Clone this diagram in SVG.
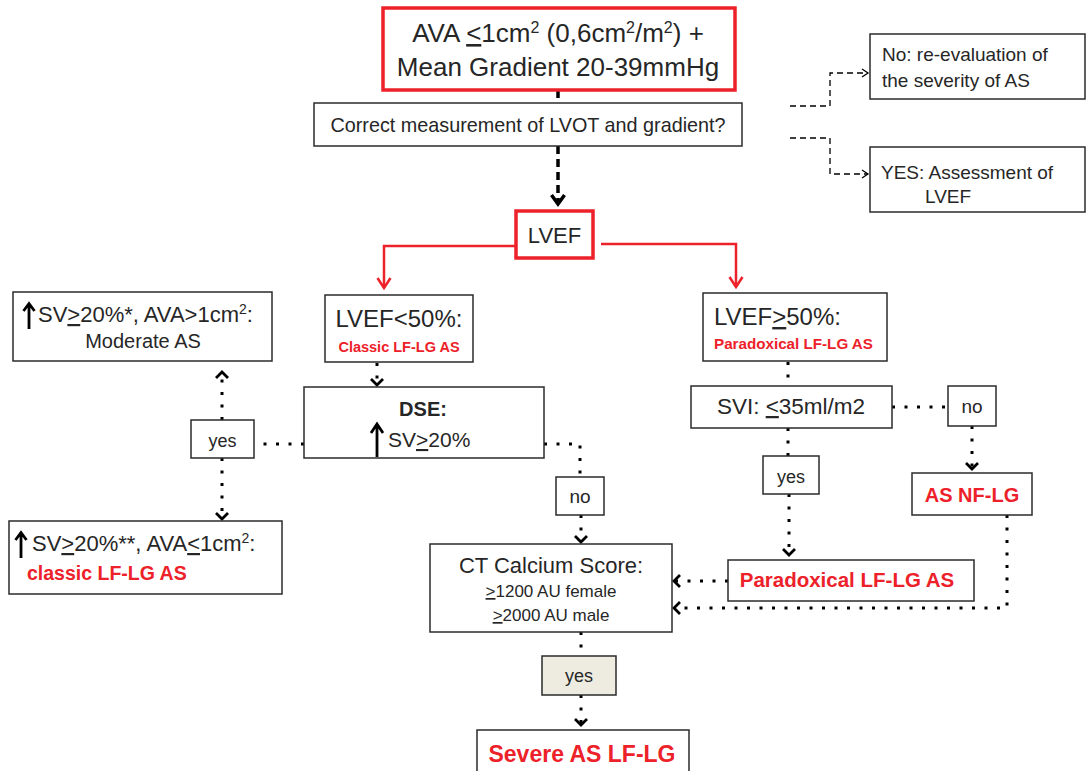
<svg xmlns="http://www.w3.org/2000/svg" width="1087" height="771" viewBox="0 0 1087 771">
<style>
.box{fill:#fff;stroke:#2b2b2b;stroke-width:1.5}
.rbox{fill:#fff;stroke:#ED2129;stroke-width:3.5}
.gbox{fill:#EEECE1;stroke:#2b2b2b;stroke-width:1.5}
text{font-family:"Liberation Sans",Arial,sans-serif;fill:#262626}
.rb{fill:#ED2129;font-weight:bold}
.b{font-weight:bold}
.dot{fill:none;stroke:#000;stroke-width:3;stroke-dasharray:3 9.5}
.dash{fill:none;stroke:#000;stroke-width:1.3;stroke-dasharray:6 4}
.thick{fill:none;stroke:#000;stroke-width:3.5;stroke-dasharray:8 5}
.red{fill:none;stroke:#ED2129;stroke-width:2.5}
.up{fill:none;stroke:#000;stroke-width:2.8}
</style>
<defs>
<marker id="mDot" markerUnits="userSpaceOnUse" orient="auto" refX="0" refY="0" markerWidth="20" markerHeight="20" style="overflow:visible"><path d="M-6,-6 L0,0 L-6,6" fill="none" stroke="#000" stroke-width="2.8"/></marker>
<marker id="mRed" markerUnits="userSpaceOnUse" orient="auto" refX="0" refY="0" markerWidth="20" markerHeight="20" style="overflow:visible"><path d="M-10,-6.5 L0,0 L-10,6.5" fill="none" stroke="#ED2129" stroke-width="2.5"/></marker>
<marker id="mThick" markerUnits="userSpaceOnUse" orient="auto" refX="0" refY="0" markerWidth="20" markerHeight="20" style="overflow:visible"><path d="M-9,-6.5 L0,0 L-9,6.5" fill="none" stroke="#000" stroke-width="3.5"/></marker>
<marker id="mDash" markerUnits="userSpaceOnUse" orient="auto" refX="0" refY="0" markerWidth="20" markerHeight="20" style="overflow:visible"><path d="M-6,-4 L0,0 L-6,4" fill="none" stroke="#000" stroke-width="1.3"/></marker>
</defs>

<g id="connectors">
<path class="thick" d="M558,90 V103"/>
<path class="thick" d="M558,146 V204" marker-end="url(#mThick)"/>
<path class="dash" d="M790,106 H830 V73 H868" marker-end="url(#mDash)"/>
<path class="dash" d="M790,138 H830 V174 H868" marker-end="url(#mDash)"/>
<path class="red" d="M516,246 H384 V288" marker-end="url(#mRed)"/>
<path class="red" d="M601,244 H736 V287" marker-end="url(#mRed)"/>
<path class="dot" d="M377,363 V385" marker-end="url(#mDot)"/>
<path class="dot" d="M304,444 H254"/>
<path class="dot" d="M222,420 V372" marker-end="url(#mDot)"/>
<path class="dot" d="M222,458 V519" marker-end="url(#mDot)"/>
<path class="dot" d="M544,444 H580 V477"/>
<path class="dot" d="M581,515 V542" marker-end="url(#mDot)"/>
<path class="dot" d="M788,362 V386"/>
<path class="dot" d="M788,428 V456"/>
<path class="dot" d="M789,494 V555" marker-end="url(#mDot)"/>
<path class="dot" d="M892,407 H948"/>
<path class="dot" d="M972,426 V469" marker-end="url(#mDot)"/>
<path class="dot" d="M728,581 H674" marker-end="url(#mDot)"/>
<path class="dot" d="M1007,515 V608 H674" marker-end="url(#mDot)"/>
<path class="dot" d="M581,632 V656"/>
<path class="dot" d="M581,695 V725" marker-end="url(#mDot)"/>
</g>

<g id="n-ava">
<rect class="rbox" x="383" y="8" width="352" height="82"/>
<text x="558" y="42" font-size="26" text-anchor="middle">AVA <tspan text-decoration="underline">&lt;</tspan>1cm<tspan dy="-9" font-size="16">2</tspan><tspan dy="9"> (0,6cm</tspan><tspan dy="-9" font-size="16">2</tspan><tspan dy="9">/m</tspan><tspan dy="-9" font-size="16">2</tspan><tspan dy="9">) +</tspan></text>
<text x="558" y="76" font-size="26" text-anchor="middle">Mean Gradient 20-39mmHg</text>
</g>

<g id="n-correct">
<rect class="box" x="314" y="103" width="428" height="43"/>
<text x="528" y="132" font-size="19.8" text-anchor="middle">Correct measurement of LVOT and gradient?</text>
</g>

<g id="n-no-reeval">
<rect class="box" x="870" y="34" width="215" height="65"/>
<text x="882" y="61" font-size="19">No: re-evaluation of</text>
<text x="882" y="87" font-size="19">the severity of AS</text>
</g>

<g id="n-yes-assess">
<rect class="box" x="870" y="147" width="215" height="65"/>
<text x="881" y="179" font-size="19">YES: Assessment of</text>
<text x="925" y="203" font-size="19">LVEF</text>
</g>

<g id="n-lvef">
<rect class="rbox" x="516" y="211" width="77" height="47"/>
<text x="554.5" y="243" font-size="22" text-anchor="middle">LVEF</text>
</g>

<g id="n-lvef-low">
<rect class="box" x="325" y="295" width="148" height="67"/>
<text x="399" y="327" font-size="24" text-anchor="middle">LVEF&lt;50%:</text>
<text class="rb" x="399" y="352" font-size="14.5" text-anchor="middle">Classic LF-LG AS</text>
</g>

<g id="n-lvef-high">
<rect class="box" x="703" y="293" width="184" height="68"/>
<text x="714" y="325" font-size="24">LVEF<tspan text-decoration="underline">&gt;</tspan>50%:</text>
<text class="rb" x="714" y="349" font-size="15.2">Paradoxical LF-LG AS</text>
</g>

<g id="n-moderate">
<rect class="box" x="13" y="292" width="259" height="69"/>
<path class="up" d="M29,329 V305 M23.5,311 L29,303.5 L34.5,311"/>
<text x="38" y="322" font-size="22">SV<tspan text-decoration="underline">&gt;</tspan>20%*, AVA&gt;1cm<tspan dy="-8" font-size="14">2</tspan><tspan dy="8">:</tspan></text>
<text x="143" y="348" font-size="20" text-anchor="middle">Moderate AS</text>
</g>

<g id="n-dse">
<rect class="box" x="304" y="387" width="240" height="71"/>
<text class="b" x="423" y="416" font-size="20" text-anchor="middle">DSE:</text>
<path class="up" d="M377,457 V426 M371,433 L377,424 L383,433"/>
<text x="388" y="447" font-size="21">SV<tspan text-decoration="underline">&gt;</tspan>20%</text>
</g>

<g id="n-yes-left">
<rect class="box" x="191" y="420" width="63" height="38"/>
<text x="222.5" y="447" font-size="18" text-anchor="middle">yes</text>
</g>

<g id="n-classic">
<rect class="box" x="9" y="521" width="273" height="73"/>
<path class="up" d="M21,558 V534 M15.5,540 L21,532.5 L26.5,540"/>
<text x="32" y="551" font-size="22">SV<tspan text-decoration="underline">&gt;</tspan>20%**, AVA<tspan text-decoration="underline">&lt;</tspan>1cm<tspan dy="-8" font-size="14">2</tspan><tspan dy="8">:</tspan></text>
<text class="rb" x="27" y="580" font-size="19.5">classic LF-LG AS</text>
</g>

<g id="n-svi">
<rect class="box" x="691" y="386" width="201" height="42"/>
<text x="791" y="414" font-size="22.5" text-anchor="middle">SVI: <tspan text-decoration="underline">&lt;</tspan>35ml/m2</text>
</g>

<g id="n-no-right">
<rect class="box" x="948" y="386" width="48" height="40"/>
<text x="972" y="413" font-size="19" text-anchor="middle">no</text>
</g>

<g id="n-yes-right">
<rect class="box" x="763" y="456" width="56" height="38"/>
<text x="791" y="483" font-size="18" text-anchor="middle">yes</text>
</g>

<g id="n-nfl">
<rect class="box" x="912" y="473" width="120" height="42"/>
<text class="rb" x="972" y="502" font-size="20" text-anchor="middle">AS NF-LG</text>
</g>

<g id="n-no-mid">
<rect class="box" x="556" y="477" width="48" height="38"/>
<text x="580" y="503" font-size="19" text-anchor="middle">no</text>
</g>

<g id="n-ct">
<rect class="box" x="430" y="544" width="242" height="88"/>
<text x="551" y="573" font-size="22" text-anchor="middle">CT Calcium Score:</text>
<text x="551" y="597" font-size="17" text-anchor="middle"><tspan text-decoration="underline">&gt;</tspan>1200 AU female</text>
<text x="551" y="621" font-size="17" text-anchor="middle"><tspan text-decoration="underline">&gt;</tspan>2000 AU male</text>
</g>

<g id="n-paradoxical">
<rect class="box" x="728" y="560" width="246" height="41"/>
<text class="rb" x="847" y="587" font-size="20.5" text-anchor="middle">Paradoxical LF-LG AS</text>
</g>

<g id="n-yes-ct">
<rect class="gbox" x="542" y="656" width="74" height="39"/>
<text x="579" y="682" font-size="18" text-anchor="middle">yes</text>
</g>

<g id="n-severe">
<rect class="box" x="477" y="730" width="212" height="60"/>
<text class="rb" x="582" y="762" font-size="23" text-anchor="middle">Severe AS LF-LG</text>
</g>
</svg>
